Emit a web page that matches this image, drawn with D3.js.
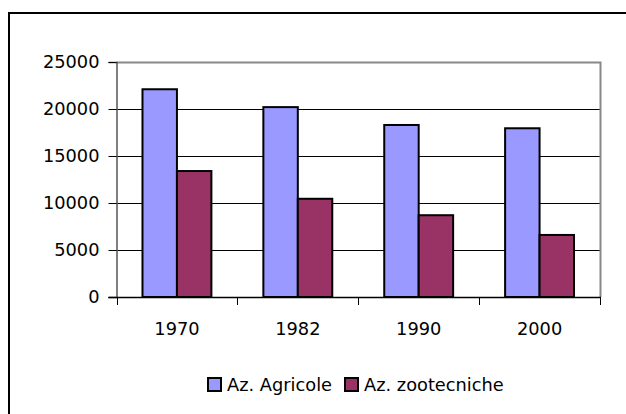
<!DOCTYPE html>
<html>
<head>
<meta charset="utf-8">
<script src="https://cdnjs.cloudflare.com/ajax/libs/d3/7.8.5/d3.min.js"></script>
<style>
  body { margin: 0; background: #fff; }
  svg { display: block; font-family: "DejaVu Sans", Verdana, sans-serif; }
</style>
</head>
<body>
<svg id="chart" width="626" height="414"></svg>
<script>
// dati
var anni = ["1970", "1982", "1990", "2000"]
var agricole = [22100, 20200, 18300, 17950]
var zootecniche = [13400, 10450, 8700, 6600]
var serie = ["Az. Agricole", "Az. zootecniche"]
var colori = ["#9999ff", "#993366"]
var yTicks = [0, 5000, 10000, 15000, 20000, 25000]

var fs = 17.8
var svg = d3.select("#chart")

// cornice esterna (tagliata a destra e in basso)
svg.append("rect")
    .attr("x", 9).attr("y", 13)
    .attr("width", 640).attr("height", 420)
    .attr("fill", "none")
    .attr("stroke", "#000")
    .attr("stroke-width", 2)

var plot = { left: 116.5, right: 600, top: 62, bottom: 297 }

var x = d3.scaleBand()
    .domain(anni)
    .range([plot.left, plot.right])
    .paddingInner(0.43)
    .paddingOuter(0.215)

var xSub = d3.scaleBand()
    .domain(serie)
    .range([0, x.bandwidth()])

var y = d3.scaleLinear()
    .domain([0, 25000])
    .range([plot.bottom, plot.top])

// griglia
svg.append("g")
    .selectAll("line")
    .data(yTicks.filter(function (d) { return d > 0 && d < 25000 }))
    .enter()
    .append("line")
    .attr("x1", plot.left).attr("x2", plot.right)
    .attr("y1", function (d) { return Math.round(y(d)) + 0.5 })
    .attr("y2", function (d) { return Math.round(y(d)) + 0.5 })
    .attr("stroke", "#000")

// bordo area grafico (alto e destra grigio)
svg.append("path")
    .attr("d", "M" + plot.left + "," + (plot.top + 0.5) + "H" + (plot.right + 0.5) + "V" + plot.bottom)
    .attr("fill", "none")
    .attr("stroke", "#888")
    .attr("stroke-width", 2)

// barre
var dati = anni.map(function (a, i) {
    return { anno: a, valori: [agricole[i], zootecniche[i]] }
})

var gruppi = svg.append("g")
    .selectAll("g")
    .data(dati)
    .enter()
    .append("g")
    .attr("transform", function (d) { return "translate(" + x(d.anno) + ",0)" })

gruppi.selectAll("rect")
    .data(function (d) { return d.valori.map(function (v, j) { return { serie: serie[j], v: v, j: j } }) })
    .enter()
    .append("rect")
    .attr("x", function (d) { return xSub(d.serie) })
    .attr("y", function (d) { return y(d.v) })
    .attr("width", xSub.bandwidth())
    .attr("height", function (d) { return plot.bottom - y(d.v) })
    .attr("fill", function (d) { return colori[d.j] })
    .attr("stroke", "#000")
    .attr("stroke-width", 2)

// asse y
var yAxis = svg.append("g")
    .attr("transform", "translate(" + plot.left + ",0)")
    .call(d3.axisLeft(y).tickValues(yTicks).tickSize(8).tickPadding(9).tickFormat(d3.format("d")))
yAxis.select(".domain").attr("stroke", "#555").attr("stroke-width", 1.5)
yAxis.selectAll("line").attr("stroke", "#000")
yAxis.selectAll("text").attr("font-size", fs).attr("fill", "#000").attr("font-family", "DejaVu Sans")

// asse x
var xAxis = svg.append("g")
    .attr("transform", "translate(0," + plot.bottom + ")")
    .call(d3.axisBottom(x).tickSize(0).tickPadding(25))
xAxis.select(".domain").remove()
xAxis.selectAll("text").attr("font-size", fs).attr("fill", "#000").attr("font-family", "DejaVu Sans")

svg.append("line")
    .attr("x1", plot.left - 8).attr("x2", plot.right + 1)
    .attr("y1", plot.bottom + 0.5).attr("y2", plot.bottom + 0.5)
    .attr("stroke", "#000")
    .attr("stroke-width", 1.5)

// tacche tra le categorie
var bordi = d3.range(anni.length + 1).map(function (i) {
    return plot.left + i * (plot.right - plot.left) / anni.length
})
svg.append("g")
    .selectAll("line")
    .data(bordi)
    .enter()
    .append("line")
    .attr("x1", function (d) { return Math.round(d) + 0.5 })
    .attr("x2", function (d) { return Math.round(d) + 0.5 })
    .attr("y1", plot.bottom).attr("y2", plot.bottom + 8)
    .attr("stroke", "#000")

// legenda
var legX = [208, 345]
var leg = svg.append("g")
    .selectAll("g")
    .data(serie)
    .enter()
    .append("g")
    .attr("transform", function (d, i) { return "translate(" + legX[i] + ",378)" })

leg.append("rect")
    .attr("width", 13).attr("height", 13)
    .attr("fill", function (d, i) { return colori[i] })
    .attr("stroke", "#000")
    .attr("stroke-width", 2)

leg.append("text")
    .attr("x", 19).attr("y", 13)
    .attr("font-size", fs)
    .text(function (d) { return d })
</script>
</body>
</html>
